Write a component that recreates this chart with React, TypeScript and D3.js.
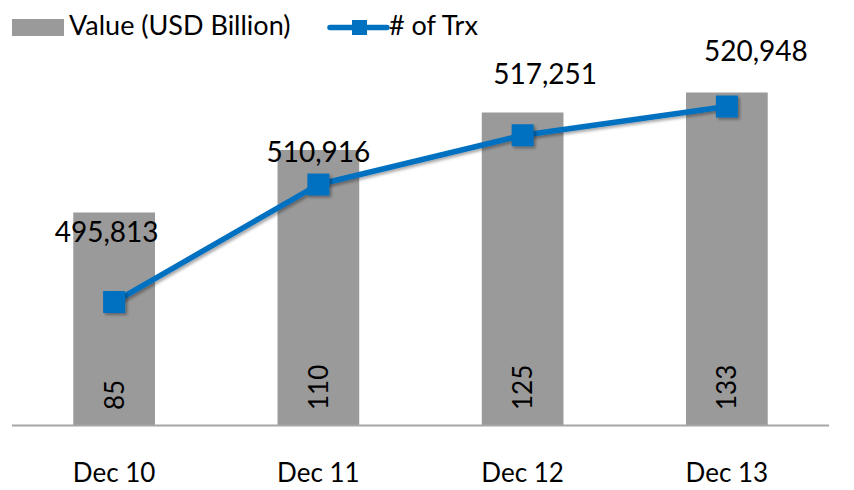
import React from "react";
import * as d3 from "d3";

const categories = ["Dec 10", "Dec 11", "Dec 12", "Dec 13"];
const valueUSD = [85, 110, 125, 133];
const trxCount = [495813, 510916, 517251, 520948];
const leftDomain = [0, 140];
const rightDomain = [480000, 525000];
// manual label placement (dx, dy from point) as in the reference
const labelDx = [-7.5, 0, 22.5, 29];
const labelDy = [-60, -23, -51, -46];

const W = 854;
const H = 490;
const FONT = "Lato, 'Open Sans', sans-serif";
const BAR = "#9A9A9A";
const LINE = "#0070C0";

export default function App() {
  const x = d3
    .scaleBand<string>()
    .domain(categories)
    .range([12, 829])
    .paddingInner(0.6)
    .paddingOuter(0.3);
  const yL = d3.scaleLinear().domain(leftDomain).range([425, 75]);
  const yR = d3.scaleLinear().domain(rightDomain).range([425, 75]);
  const cx = (c: string) => (x(c) ?? 0) + x.bandwidth() / 2;
  const line = d3
    .line<number>()
    .x((_, i) => cx(categories[i]))
    .y((d) => yR(d));
  const fmt = d3.format(",");
  const ms = 22;

  return (
    <svg
      width={W}
      height={H}
      style={{ position: "absolute", left: 0, top: 0, background: "#fff" }}
      fontFamily={FONT}
    >
      <defs>
        <filter id="sh" x="-50%" y="-50%" width="200%" height="200%">
          <feDropShadow dx="2" dy="2" stdDeviation="1.5" floodColor="#000" floodOpacity="0.35" />
        </filter>
      </defs>
      {/* bars */}
      {valueUSD.map((v, i) => (
        <rect
          key={"b" + i}
          x={x(categories[i])}
          y={yL(v)}
          width={x.bandwidth()}
          height={yL(0) - yL(v)}
          fill={BAR}
        />
      ))}
      {/* bar labels rotated */}
      {valueUSD.map((v, i) => (
        <text
          key={"bl" + i}
          transform={`translate(${cx(categories[i])},${yL(0) - 15}) rotate(-90)`}
          dy="0.36em"
          fontSize={26}
          fill="#000"
          textAnchor="start"
        >
          {v}
        </text>
      ))}
      {/* axis line */}
      <line x1={12} x2={829} y1={425.5} y2={425.5} stroke="#A6A6A6" strokeWidth={2} />
      {/* line series */}
      <path d={line(trxCount) ?? ""} fill="none" stroke={LINE} strokeWidth={5.5} strokeLinejoin="round" filter="url(#sh)" />
      {trxCount.map((v, i) => (
        <rect
          key={"m" + i}
          x={cx(categories[i]) - ms / 2}
          y={yR(v) - ms / 2}
          width={ms}
          height={ms}
          fill={LINE}
          filter="url(#sh)"
        />
      ))}
      {trxCount.map((v, i) => (
        <text
          key={"ll" + i}
          x={cx(categories[i]) + labelDx[i]}
          y={yR(v) + labelDy[i]}
          textAnchor="middle"
          fontSize={28}
          fill="#000"
        >
          {fmt(v)}
        </text>
      ))}
      {/* category labels */}
      {categories.map((c) => (
        <text key={c} x={cx(c)} y={482} textAnchor="middle" fontSize={26} fill="#000">
          {c}
        </text>
      ))}
      {/* legend */}
      <rect x={12} y={19} width={52} height={17} fill={BAR} />
      <text x={69} y={35} fontSize={27} fill="#000">
        Value (USD Billion)
      </text>
      <line x1={330} x2={387} y1={27.5} y2={27.5} stroke={LINE} strokeWidth={5.5} strokeLinecap="round" />
      <rect x={352} y={20} width={15} height={15} fill={LINE} />
      <text x={389} y={35} fontSize={27} fill="#000">
        # of Trx
      </text>
    </svg>
  );
}
